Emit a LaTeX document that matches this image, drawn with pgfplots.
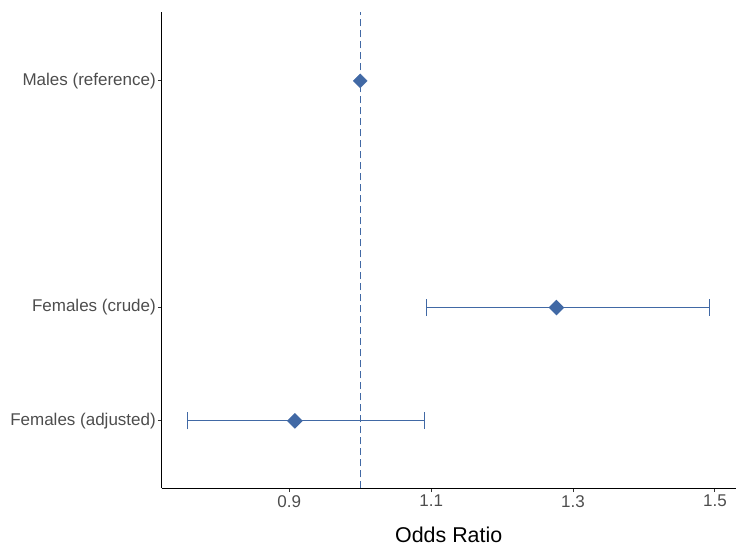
\documentclass[border=0pt]{standalone}
\usepackage{pgfplots}
\pgfplotsset{compat=1.18}
\usepackage{fontspec}
\setmainfont{Liberation Sans}

\definecolor{ptblue}{RGB}{65,105,165}
\definecolor{labgray}{RGB}{77,77,77}
\definecolor{tickgray}{RGB}{51,51,51}

\begin{document}
\begin{tikzpicture}
    % page frame: 749 x 553 px, axis origin at the lower left of the plot panel
    \path[use as bounding box] (-161.7bp,-64.7bp) rectangle (587.3bp,488.3bp);

    \begin{axis}[
        at={(0,0)}, anchor=south west,
        scale only axis,
        width=574bp, height=476bp,
        xmin=0.7202, xmax=1.5293,
        ymin=-0.595, ymax=3.605,
        axis x line=bottom, axis y line=left,
        axis line style={-, black, line width=1.1bp},
        xtick={0.9,1.1,1.3,1.5},
        ytick={0,1,3},
        yticklabels={Females (adjusted), Females (crude), Males (reference)},
        tick align=outside,
        major tick length=3.7bp,
        tick style={tickgray, line width=1bp},
        minor tick num=0,
        /pgf/number format/assume math mode=true,
        /pgf/number format/fixed,
        /pgf/number format/precision=1,
        ticklabel style={font=\fontsize{17bp}{20bp}\selectfont, text=labgray},
        xticklabel style={inner sep=0pt, yshift=-3bp},
        yticklabel style={inner sep=0pt, xshift=-2bp},
        xlabel={Odds Ratio},
        xlabel style={font=\fontsize{21.4bp}{24bp}\selectfont, text=black,
            at={(axis description cs:0.5,0)}, anchor=base, yshift=-54.5bp},
        clip=false,
    ]
        % reference line at OR = 1
        \addplot[ptblue, line width=1.1bp, dash pattern=on 7bp off 4bp, forget plot]
            coordinates {(1,-0.595) (1,3.605)};

        % estimates with 95% CI
        \addplot[ptblue, line width=1.2bp, draw=none, mark=diamond*,
            mark size=7bp, mark options={xscale=1.333, solid},
            error bars/.cd,
                x dir=both, x explicit,
                error mark=|,
                error mark options={mark size=8.5bp, line width=1.2bp, ptblue},
                error bar style={line width=1.2bp, ptblue}]
            table[x=or, y=pos, x error plus=ep, x error minus=em] {
            pos  or      ep      em
            1    1.2766  0.2154  0.1836
            0    0.9080  0.1826  0.1518
        };

        % reference group, no interval
        \addplot[ptblue, draw=none, mark=diamond*, mark size=7bp,
            mark options={xscale=1.333}]
            coordinates {(1.000,3)};
    \end{axis}
\end{tikzpicture}
\end{document}
